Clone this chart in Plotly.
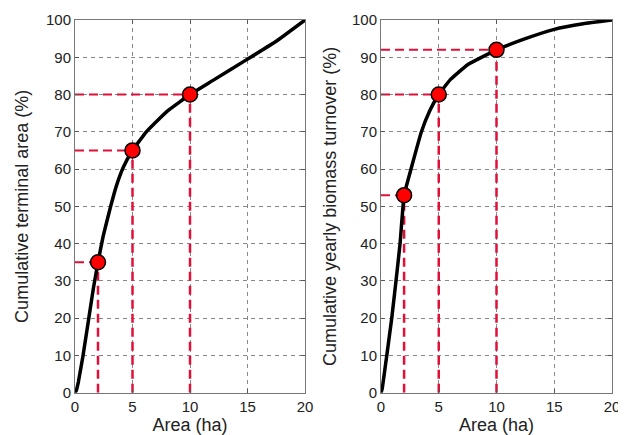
import plotly.graph_objects as go

# Left panel: cumulative terminal area
area_left = [0, 0.1, 0.3, 0.7, 1.2, 1.6, 2, 2.45, 3.1, 3.6, 4.2, 5, 6.2, 8, 10, 12, 15, 17.5, 20]
cum_left = [0, 0.5, 3, 10, 20, 28, 35, 42, 50, 55.5, 60.5, 65, 70, 75.5, 80, 83.8, 89.5, 94.3, 100]
pts_left_x = [2, 5, 10]
pts_left_y = [35, 65, 80]

# Right panel: cumulative yearly biomass turnover
area_right = [0, 0.1, 0.5, 0.93, 1.3, 1.65, 2, 2.6, 3.5, 4.2, 5, 6, 7.5, 10, 12.5, 15, 17.5, 20]
cum_right = [0, 1, 10, 20, 30, 40, 53, 60, 70, 75.5, 80, 84, 88, 92, 95, 97.5, 99, 100]
pts_right_x = [2, 5, 10]
pts_right_y = [53, 80, 92]

x_ticks = [0, 5, 10, 15, 20]
y_ticks = list(range(0, 101, 10))

fig = go.Figure()

RED = "#e0103a"

def add_panel(xa, ya, xs, ys, px, py):
    for x, y in zip(px, py):
        fig.add_trace(go.Scatter(x=[0, x], y=[y, y], mode="lines",
                                 line=dict(color=RED, width=2, dash="9px,5px"),
                                 xaxis=xa, yaxis=ya, showlegend=False, hoverinfo="skip"))
        fig.add_trace(go.Scatter(x=[x, x], y=[0, y], mode="lines",
                                 line=dict(color=RED, width=2.5, dash="9px,5px"),
                                 xaxis=xa, yaxis=ya, showlegend=False, hoverinfo="skip"))
    fig.add_trace(go.Scatter(x=xs, y=ys, mode="lines",
                             line=dict(color="black", width=3.5, shape="spline", smoothing=0.3),
                             xaxis=xa, yaxis=ya, showlegend=False))
    fig.add_trace(go.Scatter(x=px, y=py, mode="markers",
                             marker=dict(color="#ff0000", size=15, line=dict(color="black", width=1.5)),
                             xaxis=xa, yaxis=ya, showlegend=False))

add_panel("x", "y", area_left, cum_left, pts_left_x, pts_left_y)
add_panel("x2", "y2", area_right, cum_right, pts_right_x, pts_right_y)

font = dict(family="Liberation Sans, Arial, sans-serif", size=15, color="#222")

axis_common = dict(showline=True, linecolor="#777", linewidth=1, mirror="ticks",
                   ticks="inside", ticklen=4, tickcolor="#555",
                   showgrid=True, gridcolor="#888", griddash="4px,4px", gridwidth=1,
                   zeroline=False, automargin=False, tickfont=dict(size=15, color="#222"))

OFF = 8  # page offset of the figure inside the window
W, H = 626, 435
ydom = [1 - (392.7 - OFF) / H, 1 - (20 - OFF) / H]
TF = dict(size=18, color="#222")
fig.update_layout(
    width=W, height=H,
    margin=dict(l=0, r=0, t=0, b=0),
    paper_bgcolor="white", plot_bgcolor="white",
    font=font,
    xaxis=dict(domain=[(75 - OFF) / W, (305 - OFF) / W], range=[0, 20], tickvals=x_ticks,
               title=dict(text="Area (ha)", font=TF, standoff=2), anchor="y", **axis_common),
    yaxis=dict(domain=ydom, range=[0, 100], tickvals=y_ticks,
               title=dict(text="Cumulative terminal area (%)", font=TF, standoff=12), anchor="x", **axis_common),
    xaxis2=dict(domain=[(381 - OFF) / W, (612 - OFF) / W], range=[0, 20], tickvals=x_ticks,
                title=dict(text="Area (ha)", font=TF, standoff=2), anchor="y2", **axis_common),
    yaxis2=dict(domain=ydom, range=[0, 100], tickvals=y_ticks,
                title=dict(text="Cumulative yearly biomass turnover (%)", font=TF, standoff=10), anchor="x2", **axis_common),
)

fig.write_html("out.html")
